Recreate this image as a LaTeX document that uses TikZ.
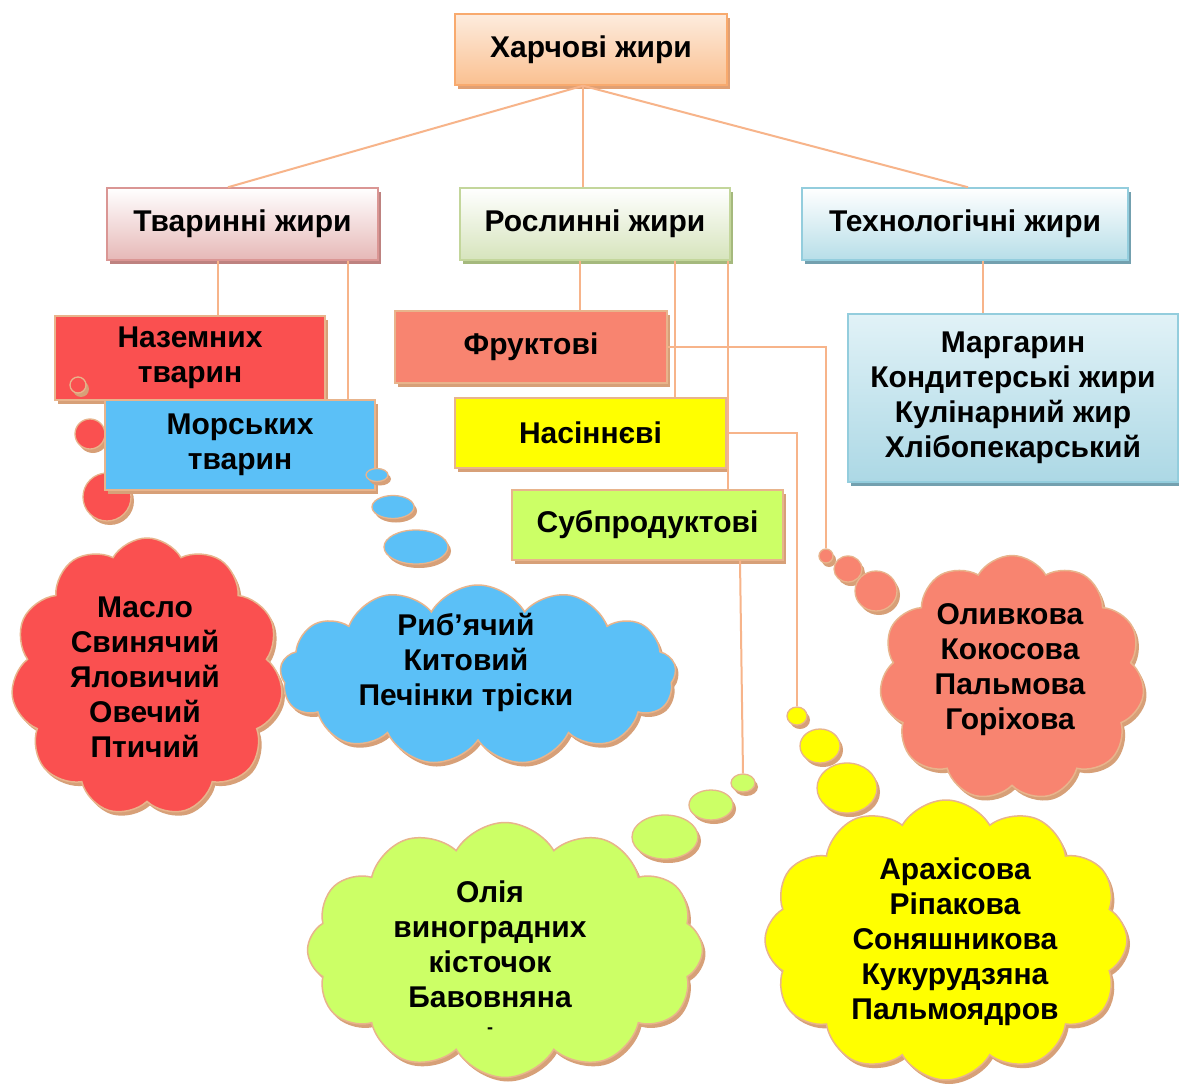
\documentclass[tikz,border=0pt]{standalone}
\usepackage{fontspec}
\setmainfont{Liberation Sans}
\usetikzlibrary{shapes.symbols,shapes.geometric,shadows}
\definecolor{lineC}{RGB}{247,180,138}
\definecolor{tanE}{RGB}{232,180,140}
\definecolor{tanS}{RGB}{215,160,120}
\definecolor{rootF}{RGB}{250,192,144}
\definecolor{rootT}{RGB}{253,236,222}
\definecolor{rootB}{RGB}{248,170,110}
\definecolor{rootS}{RGB}{225,160,115}
\definecolor{animF}{RGB}{230,184,183}
\definecolor{animB}{RGB}{218,150,148}
\definecolor{animS}{RGB}{190,130,128}
\definecolor{plantF}{RGB}{214,228,188}
\definecolor{plantB}{RGB}{195,214,155}
\definecolor{plantS}{RGB}{165,185,125}
\definecolor{techF}{RGB}{183,222,232}
\definecolor{techB}{RGB}{147,205,221}
\definecolor{techS}{RGB}{115,160,175}
\definecolor{margT}{RGB}{225,242,247}
\definecolor{margF}{RGB}{172,216,229}
\definecolor{redF}{RGB}{250,80,80}
\definecolor{blueF}{RGB}{91,192,247}
\definecolor{salF}{RGB}{248,132,112}
\definecolor{yelF}{RGB}{255,255,0}
\definecolor{grnF}{RGB}{204,255,102}
\begin{document}
\begin{tikzpicture}[x=1pt,y=-1pt,
  font=\fontsize{30}{35}\selectfont\bfseries,
  conn/.style={draw=lineC, line width=2pt},
  shd/.style={general shadow={fill=#1, shadow xshift=3pt, shadow yshift=-4pt}},
  hbox/.style={rectangle, line width=1.5pt, align=center, inner sep=0pt, top color=white},
  sbox/.style={rectangle, draw=tanE, line width=1.5pt, align=center, inner sep=0pt, shd=tanS},
  bub/.style={ellipse, draw=tanE, line width=1.3pt, inner sep=0pt, shd=tanS},
  cl/.style={cloud, cloud puffs=11, cloud puff arc=120, cloud ignores aspect, draw=tanE, line width=1.5pt, inner sep=0pt, shd=tanS},
  txt/.style={align=center, inner sep=0pt}]
\fill[white] (0,0) rectangle (1179,1086);
\useasboundingbox (0,0) rectangle (1179,1086);

% header boxes
\node[hbox, draw=rootB, top color=rootT, bottom color=rootF, shd=rootS, minimum width=272pt, minimum height=71pt] (root) at (591,49.5) {Харчові жири};
\node[hbox, draw=animB, bottom color=animF, shd=animS, minimum width=271pt, minimum height=72pt] (anim) at (242.5,224) {Тваринні жири};
\node[hbox, draw=plantB, bottom color=plantF, shd=plantS, minimum width=270pt, minimum height=72pt] (plant) at (595,224) {Рослинні жири};
\node[hbox, draw=techB, bottom color=techF, shd=techS, minimum width=326pt, minimum height=72pt] (tech) at (965,224) {Технологічні жири};
\node[hbox, draw=techB, top color=margT, bottom color=margF, shd=techS, minimum width=330pt, minimum height=168pt] (marg) at (1013,398) {Маргарин\\Кондитерські жири\\Кулінарний жир\\Хлібопекарський};

% second level boxes
\node[sbox, fill=redF, minimum width=270pt, minimum height=84pt] (land) at (190,358) {Наземних\\тварин};
\node[bub, fill=redF, minimum width=16pt, minimum height=16pt] (rb1) at (78,385) {};
\node[bub, fill=redF, minimum width=30pt, minimum height=30pt] (rb2) at (90,434) {};
\node[bub, fill=redF, minimum width=48pt, minimum height=48pt] (rb3) at (107,497) {};
\node[sbox, fill=blueF, minimum width=270pt, minimum height=90pt] (sea) at (240,445) {Морських\\тварин};
\node[bub, fill=blueF, minimum width=22pt, minimum height=13pt] (bb1) at (377,475) {};
\node[bub, fill=blueF, minimum width=42pt, minimum height=23pt] (bb2) at (393,507) {};
\node[bub, fill=blueF, minimum width=64pt, minimum height=34pt] (bb3) at (416,547) {};

\node[sbox, fill=salF, minimum width=272pt, minimum height=72pt] (fruit) at (531,347) {Фруктові};
\node[sbox, fill=yelF, minimum width=271pt, minimum height=70pt] (seed) at (590.5,433) {Насіннєві};
\node[sbox, fill=grnF, minimum width=271pt, minimum height=70pt] (offal) at (647.5,525) {Субпродуктові};

% clouds
\node[cl, fill=redF, minimum width=272pt, minimum height=278pt] (rc) at (147,677) {};
\node[txt] (rct) at (145,677) {Масло\\Свинячий\\Яловичий\\Овечий\\Птичий};
\node[cl, cloud puffs=13, fill=blueF, minimum width=396pt, minimum height=180pt] (bc) at (478,675) {};
\node[txt] (bct) at (466,662) {Риб’ячий\\Китовий\\Печінки тріски};

\node[cl, fill=salF, minimum width=265pt, minimum height=245pt] (sc) at (1012,678) {};
\node[txt] (sct) at (1010,670) {Оливкова\\Кокосова\\Пальмова\\Горіхова};
\node[bub, fill=salF, minimum width=14pt, minimum height=14pt] (sb1) at (826,556) {};
\node[bub, fill=salF, minimum width=28pt, minimum height=26pt] (sb2) at (848,569) {};
\node[bub, fill=salF, minimum width=42pt, minimum height=40pt] (sb3) at (876,591) {};

\node[cl, cloud puffs=12, fill=yelF, minimum width=362pt, minimum height=280pt] (yc) at (946,940) {};
\node[txt] (yct) at (955,942) {Арахісова\\Ріпакова\\Соняшникова\\Кукурудзяна\\Пальмоядров};
\node[bub, fill=yelF, minimum width=20pt, minimum height=18pt] (yb1) at (797,716) {};
\node[bub, fill=yelF, minimum width=40pt, minimum height=34pt] (yb2) at (820,746) {};
\node[bub, fill=yelF, minimum width=60pt, minimum height=50pt] (yb3) at (847,788) {};

\node[cl, cloud puffs=12, fill=grnF, minimum width=395pt, minimum height=255pt] (gc) at (505,950) {};
\node[txt] (gct) at (490,944) {Олія\\виноградних\\кісточок\\Бавовняна};
\node[txt, font=\fontsize{18}{18}\selectfont\bfseries] (gdash) at (490,1031) {-};
\node[bub, fill=grnF, minimum width=24pt, minimum height=18pt] (gb1) at (743,783) {};
\node[bub, fill=grnF, minimum width=44pt, minimum height=30pt] (gb2) at (711,805) {};
\node[bub, fill=grnF, minimum width=66pt, minimum height=44pt] (gb3) at (665,837) {};

% connectors
\draw[conn] ([xshift=-8pt]root.south) -- ([xshift=-14.5pt]anim.north);
\draw[conn] ([xshift=-8pt]root.south) -- ([xshift=-8pt]root.south |- plant.north);
\draw[conn] ([xshift=-8pt]root.south) -- ([xshift=3pt]tech.north);
\draw[conn] ([xshift=-24.5pt]anim.south) -- ([xshift=-24.5pt]anim.south |- land.north);
\draw[conn] ([xshift=105.5pt]anim.south) -- ([xshift=105.5pt]anim.south |- sea.north);
\draw[conn] ([xshift=-15pt]plant.south) -- ([xshift=-15pt]plant.south |- fruit.north);
\draw[conn] ([xshift=80pt]plant.south) -- ([xshift=80pt]plant.south |- seed.north);
\draw[conn] ([xshift=133pt]plant.south) -- ([xshift=133pt]plant.south |- offal.north);
\draw[conn] ([xshift=18pt]tech.south) -- ([xshift=18pt]tech.south |- marg.north);
\draw[conn] (fruit.east) -| (sb1.north);
\draw[conn] (seed.east) -| (yb1.north);
\draw[conn] ([xshift=92.5pt]offal.south) -- (gb1.north);
\end{tikzpicture}
\end{document}
